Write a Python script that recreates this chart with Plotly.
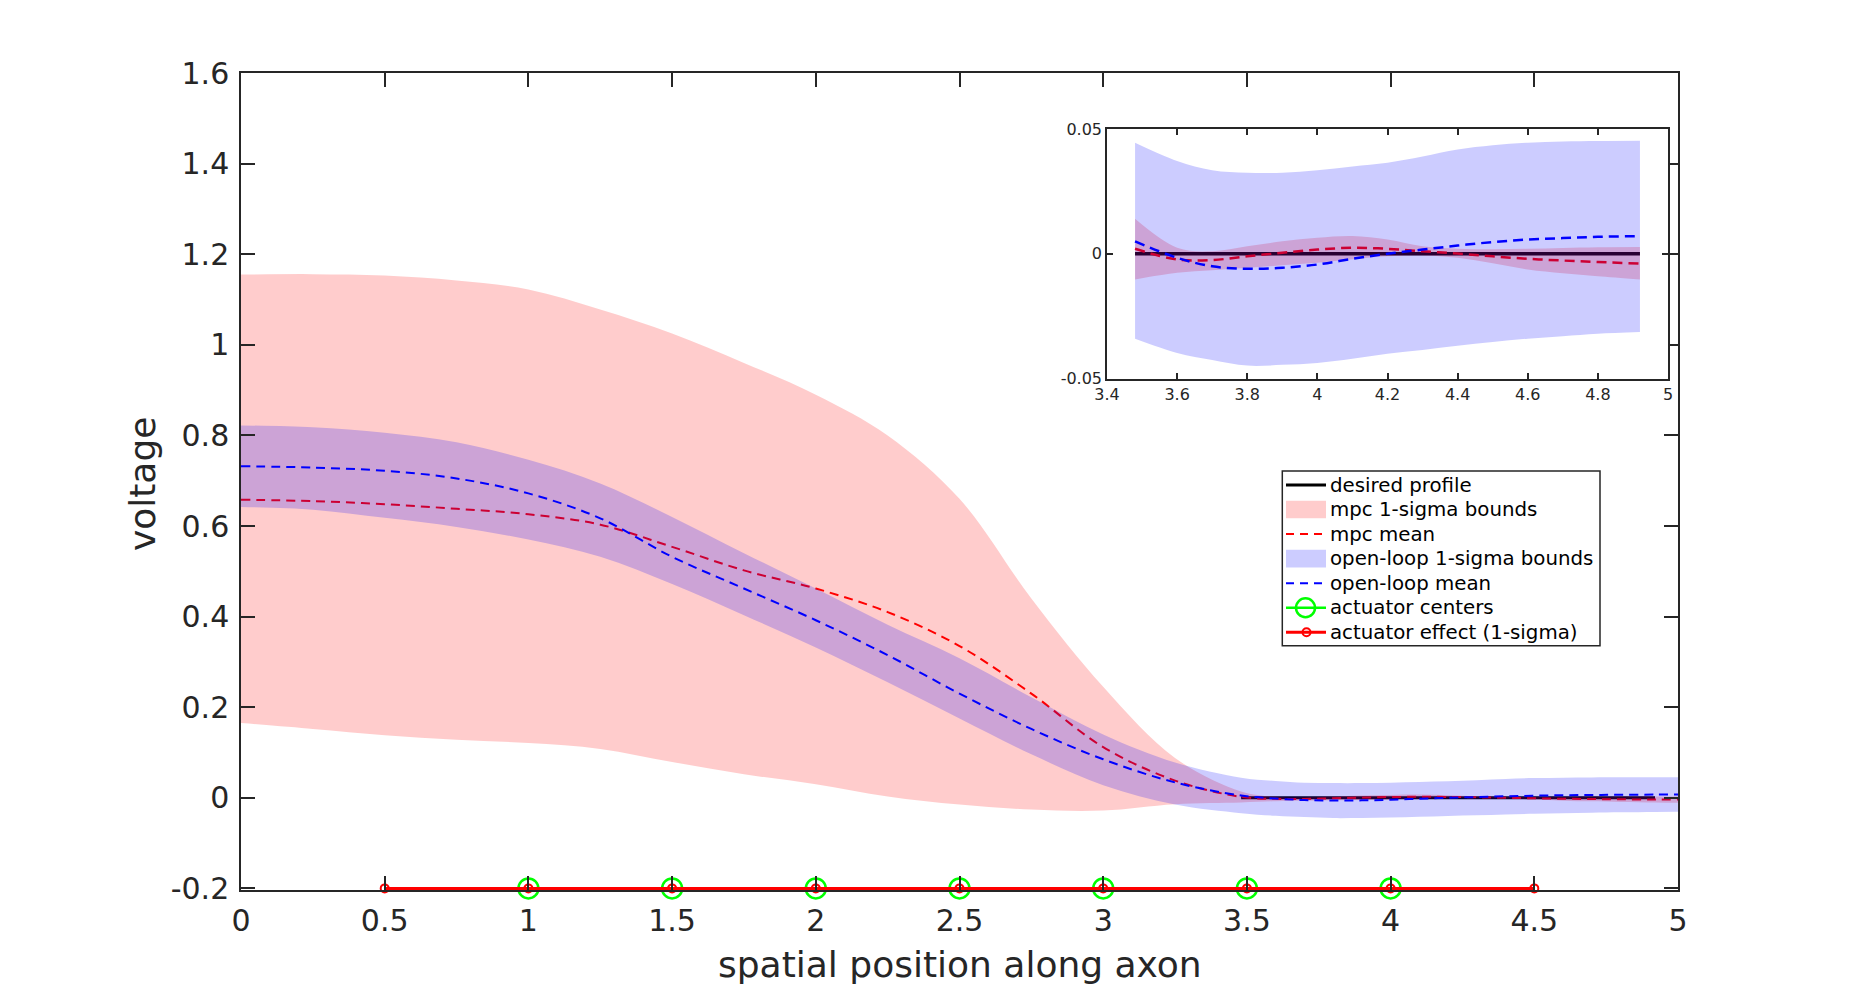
import plotly.graph_objects as go

# ---------------- data ----------------
x = [0, 0.25, 0.5, 0.75, 1.0, 1.25, 1.5, 1.75, 2.0, 2.25, 2.5, 2.75, 3.0, 3.25,
     3.48, 3.6, 3.7, 3.8, 3.9, 4.0, 4.1, 4.2, 4.3, 4.4, 4.5, 4.6, 4.7, 4.8, 4.92, 5.0]

mpc_hi = [1.155, 1.156, 1.153, 1.142, 1.122, 1.078, 1.025, 0.960, 0.890, 0.800, 0.660, 0.440, 0.245, 0.088,
          0.014, 0.0024, 0.001, 0.003, 0.005, 0.0064, 0.0071, 0.0057, 0.003, 0.002, 0.0018, 0.002, 0.0023, 0.0026, 0.0027, 0.0028]
mpc_lo = [0.165, 0.152, 0.138, 0.128, 0.121, 0.108, 0.079, 0.052, 0.030, 0.003, -0.015, -0.026, -0.028, -0.014,
          -0.0103, -0.0076, -0.0066, -0.0056, -0.0046, -0.0036, -0.0022, -0.001, -0.0007, -0.0016, -0.0038, -0.0063, -0.0078, -0.009, -0.0103, -0.011]
mpc_mean = [0.658, 0.655, 0.648, 0.638, 0.626, 0.603, 0.554, 0.502, 0.462, 0.410, 0.335, 0.230, 0.112, 0.038,
            0.002, -0.0023, -0.0025, -0.001, 0.0004, 0.0017, 0.0024, 0.002, 0.001, 0.0001, -0.001, -0.002, -0.0027, -0.0033, -0.0039, -0.004]

ol_hi = [0.822, 0.818, 0.806, 0.785, 0.746, 0.694, 0.620, 0.540, 0.462, 0.382, 0.308, 0.222, 0.140, 0.078,
         0.0445, 0.0372, 0.0335, 0.0325, 0.0325, 0.0335, 0.035, 0.0365, 0.039, 0.0418, 0.0435, 0.0445, 0.045, 0.0452, 0.0453, 0.0453]
ol_lo = [0.642, 0.636, 0.618, 0.598, 0.570, 0.532, 0.472, 0.403, 0.332, 0.255, 0.175, 0.096, 0.028, -0.015,
         -0.034, -0.0397, -0.0425, -0.0448, -0.0445, -0.0437, -0.042, -0.040, -0.0385, -0.0368, -0.0353, -0.034, -0.033, -0.032, -0.0313, -0.031]
ol_mean = [0.732, 0.729, 0.722, 0.705, 0.672, 0.617, 0.532, 0.462, 0.392, 0.315, 0.230, 0.152, 0.085, 0.034,
           0.005, -0.0016, -0.005, -0.006, -0.0056, -0.0043, -0.002, 0.0, 0.0017, 0.0033, 0.0047, 0.0057, 0.0063, 0.0068, 0.0071, 0.0072]

desired_x = [3.48, 4.92]
desired_y = [0.0, 0.0]

actuator_centers = [1, 1.5, 2, 2.5, 3, 3.5, 4]
actuator_effect_x = [0.5, 1, 1.5, 2, 2.5, 3, 3.5, 4, 4.5]
actuator_level = -0.2

x_ticks = [0, 0.5, 1, 1.5, 2, 2.5, 3, 3.5, 4, 4.5, 5]
x_ticktext = ["0", "0.5", "1", "1.5", "2", "2.5", "3", "3.5", "4", "4.5", "5"]
y_ticks = [-0.2, 0, 0.2, 0.4, 0.6, 0.8, 1.0, 1.2, 1.4, 1.6]
y_ticktext = ["-0.2", "0", "0.2", "0.4", "0.6", "0.8", "1", "1.2", "1.4", "1.6"]
ix_ticks = [3.4, 3.6, 3.8, 4.0, 4.2, 4.4, 4.6, 4.8, 5.0]
ix_ticktext = ["3.4", "3.6", "3.8", "4", "4.2", "4.4", "4.6", "4.8", "5"]
iy_ticks = [-0.05, 0, 0.05]
iy_ticktext = ["-0.05", "0", "0.05"]

legend_labels = ["desired profile", "mpc 1-sigma bounds", "mpc mean", "open-loop 1-sigma bounds",
                 "open-loop mean", "actuator centers", "actuator effect (1-sigma)"]

# ---------------- styles ----------------
RED_FILL = "rgba(255,0,0,0.2)"
BLUE_FILL = "rgba(0,0,255,0.2)"
GREEN = "#00ff00"
AX = "#262626"
FONT = "DejaVu Sans"

L, R, T, B = 241, 177, 73, 111
W, H = 1855, 1001
PW, PH = W - L - R, H - T - B

def px(xp):
    return (xp - L) / PW

def py(yp):
    return (T + PH - yp) / PH

# inset subset
sel = [i for i, v in enumerate(x) if desired_x[0] <= v <= desired_x[1]]
def sub(a):
    return [a[i] for i in sel]
ix = sub(x)

fig = go.Figure()

def add_set(xs, lo, hi, mn_r, lo_b, hi_b, mn_b, dx, dy, xa, ya, main):
    dash_w = 2 if main else 2.5
    dash = "9px,6px" if main else "10px,6px"
    fig.add_trace(go.Scatter(x=dx, y=dy, mode="lines", line=dict(color="black", width=3 if main else 3.5),
                             name="desired profile", xaxis=xa, yaxis=ya))
    fig.add_trace(go.Scatter(x=xs, y=lo, mode="lines", line=dict(width=0, shape="spline"),
                             hoverinfo="skip", xaxis=xa, yaxis=ya))
    fig.add_trace(go.Scatter(x=xs, y=hi, mode="lines", line=dict(width=0, shape="spline"),
                             fill="tonexty", fillcolor=RED_FILL, name="mpc 1-sigma bounds", xaxis=xa, yaxis=ya))
    fig.add_trace(go.Scatter(x=xs, y=mn_r, mode="lines", line=dict(color="red", width=dash_w, dash=dash, shape="spline"),
                             name="mpc mean", xaxis=xa, yaxis=ya))
    fig.add_trace(go.Scatter(x=xs, y=lo_b, mode="lines", line=dict(width=0, shape="spline"),
                             hoverinfo="skip", xaxis=xa, yaxis=ya))
    fig.add_trace(go.Scatter(x=xs, y=hi_b, mode="lines", line=dict(width=0, shape="spline"),
                             fill="tonexty", fillcolor=BLUE_FILL, name="open-loop 1-sigma bounds", xaxis=xa, yaxis=ya))
    fig.add_trace(go.Scatter(x=xs, y=mn_b, mode="lines", line=dict(color="blue", width=dash_w, dash=dash, shape="spline"),
                             name="open-loop mean", xaxis=xa, yaxis=ya))

add_set(x, mpc_lo, mpc_hi, mpc_mean, ol_lo, ol_hi, ol_mean, desired_x, desired_y, "x", "y", True)

fig.add_trace(go.Scatter(x=actuator_centers, y=[actuator_level] * len(actuator_centers),
                         mode="lines+markers", name="actuator centers",
                         line=dict(color=GREEN, width=2.5),
                         marker=dict(symbol="circle-open", size=20, color=GREEN, line=dict(width=2.5)),
                         cliponaxis=False))
fig.add_trace(go.Scatter(x=actuator_effect_x, y=[actuator_level] * len(actuator_effect_x),
                         mode="lines+markers", name="actuator effect (1-sigma)",
                         line=dict(color="red", width=3),
                         marker=dict(symbol="circle-open", size=8, color="red", line=dict(width=2)),
                         cliponaxis=False))

add_set(ix, sub(mpc_lo), sub(mpc_hi), sub(mpc_mean), sub(ol_lo), sub(ol_hi), sub(ol_mean),
        desired_x, desired_y, "x2", "y2", False)

# ---------------- legend (drawn as a boxed key) ----------------
LX0, LX1, LY0, LY1 = 1282.3, 1600, 471, 645.7
SX0, SX1, TX = 1286, 1326, 1327.5
ROW0, ROWH = 485, 24.55
shapes = [dict(type="rect", xref="paper", yref="paper", x0=px(LX0), x1=px(LX1), y0=py(LY1), y1=py(LY0),
               fillcolor="white", line=dict(color=AX, width=1.5), layer="above")]
annotations = []
for i, lab in enumerate(legend_labels):
    yc = ROW0 + i * ROWH
    annotations.append(dict(text=lab, xref="paper", yref="paper", x=px(TX), y=py(yc), xanchor="left",
                            yanchor="middle", showarrow=False, font=dict(size=19.8, family=FONT, color="black")))
    def hline(color, width, dash="solid"):
        shapes.append(dict(type="line", xref="paper", yref="paper", x0=px(SX0), x1=px(SX1), y0=py(yc), y1=py(yc),
                           line=dict(color=color, width=width, dash=dash), layer="above"))
    def box(color):
        shapes.append(dict(type="rect", xref="paper", yref="paper", x0=px(SX0), x1=px(SX1),
                           y0=py(yc + 8.8), y1=py(yc - 8.8), fillcolor=color, line=dict(width=0), layer="above"))
    def circ(color, cx, r, width):
        shapes.append(dict(type="circle", xref="paper", yref="paper", x0=px(cx - r), x1=px(cx + r),
                           y0=py(yc + r), y1=py(yc - r), line=dict(color=color, width=width), layer="above"))
    if i == 0:
        hline("black", 3)
    elif i == 1:
        box(RED_FILL)
    elif i == 2:
        hline("red", 2, "8px,6px")
    elif i == 3:
        box(BLUE_FILL)
    elif i == 4:
        hline("blue", 2, "8px,6px")
    elif i == 5:
        hline(GREEN, 2.5)
        circ(GREEN, 1305.5, 9.5, 2.5)
    else:
        hline("red", 3)
        circ("red", 1306.5, 4, 2)

annotations += [
    dict(text="spatial position along axon", xref="paper", yref="paper", x=0.5, y=-0.0906,
         xanchor="center", yanchor="middle", showarrow=False, font=dict(size=36, family=FONT, color=AX)),
    dict(text="voltage", xref="paper", yref="paper", x=-0.0689, y=0.498, textangle=-90,
         xanchor="center", yanchor="middle", showarrow=False, font=dict(size=36, family=FONT, color=AX)),
]

axis_common = dict(showline=True, linecolor=AX, linewidth=1.5, mirror="ticks", ticks="inside",
                   tickcolor=AX, tickwidth=1.5, showgrid=False, zeroline=False)

fig.update_layout(
    width=W, height=H,
    margin=dict(l=L, r=R, t=T, b=B, pad=0),
    paper_bgcolor="white", plot_bgcolor="white",
    font=dict(family=FONT, color=AX),
    showlegend=False,
    xaxis=dict(range=[0, 5], tickvals=x_ticks, ticktext=x_ticktext, ticklen=14,
               tickfont=dict(size=30, family=FONT, color=AX), ticklabelstandoff=3, **axis_common),
    yaxis=dict(range=[-0.2035, 1.6], tickvals=y_ticks, ticktext=y_ticktext, ticklen=14,
               tickfont=dict(size=30, family=FONT, color=AX), ticklabelstandoff=4, **axis_common),
    xaxis2=dict(domain=[px(1107), px(1668)], anchor="y2", range=[3.4, 5], tickvals=ix_ticks, ticktext=ix_ticktext,
                ticklen=6, tickfont=dict(size=16, family=FONT, color=AX), **axis_common),
    yaxis2=dict(domain=[py(378.6), py(129)], anchor="x2", range=[-0.05, 0.05], tickvals=iy_ticks, ticktext=iy_ticktext,
                ticklen=6, tickfont=dict(size=16, family=FONT, color=AX), **axis_common),
    shapes=shapes,
    annotations=annotations,
)

fig.write_html("out.html")
